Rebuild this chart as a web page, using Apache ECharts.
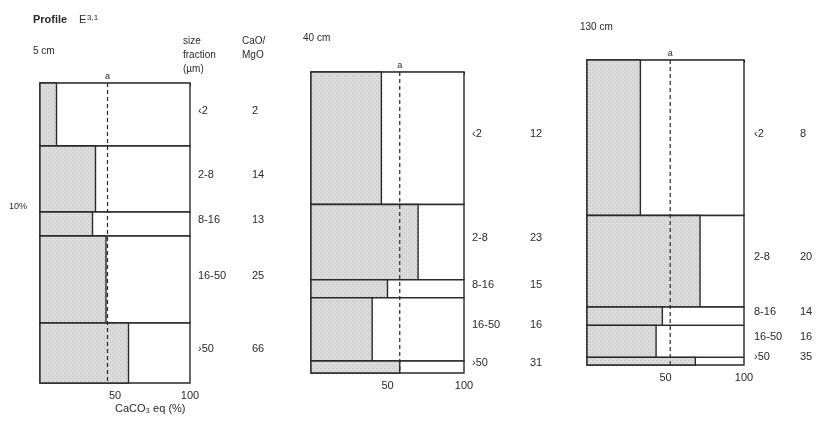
<!DOCTYPE html>
<html>
<head>
<meta charset="utf-8">
<script src="https://cdn.jsdelivr.net/npm/echarts@6/dist/echarts.min.js"></script>
<style>
  html, body { margin: 0; padding: 0; background: #fff; }
  #chart { width: 829px; height: 421px; }
</style>
</head>
<body>
<div id="chart"></div>
<script>
// size fractions (µm), same order at every depth
const fractions = ['<2', '2-8', '8-16', '16-50', '>50'];

// 5 cm
const share5 = [21, 22, 8, 29, 20];      // weight % of each fraction (band height)
const caco3_5 = [11, 37, 35, 44, 59];    // CaCO3 eq (%)
const ratio5 = [2, 14, 13, 25, 66];      // CaO/MgO
const mean5 = 45;                        // "a"

// 40 cm
const share40 = [44, 25, 6, 21, 4];
const caco3_40 = [46, 70, 50, 40, 58];
const ratio40 = [12, 23, 15, 16, 31];
const mean40 = 58;

// 130 cm
const share130 = [51, 30, 6, 10.5, 2.5];
const caco3_130 = [34, 72, 48, 44, 69];
const ratio130 = [8, 20, 14, 16, 35];
const mean130 = 53;

const xTicks = [50, 100];

const panels = [
  { share: share5, caco3: caco3_5, ratio: ratio5, mean: mean5,
    grid: { left: 40, top: 83, width: 150, height: 300 }, labelDx: 8, ratioDx: 62 },
  { share: share40, caco3: caco3_40, ratio: ratio40, mean: mean40,
    grid: { left: 311, top: 72, width: 153, height: 301 }, labelDx: 8, ratioDx: 66 },
  { share: share130, caco3: caco3_130, ratio: ratio130, mean: mean130,
    grid: { left: 587, top: 60, width: 157, height: 305 }, labelDx: 10, ratioDx: 56 }
];

const ink = '#2a2a2a';
const font = '"Liberation Sans", Arial, sans-serif';

// stippled grey fill like the printed shading
const pat = document.createElement('canvas');
pat.width = 4; pat.height = 4;
const pctx = pat.getContext('2d');
pctx.fillStyle = '#dcdcdc';
pctx.fillRect(0, 0, 4, 4);
pctx.fillStyle = '#bdbdbd';
pctx.fillRect(0, 0, 1, 1);
pctx.fillRect(2, 2, 1, 1);

function bandRows(p) {
  let acc = 0;
  return p.share.map((s, i) => {
    const row = [acc, acc + s, p.caco3[i], p.ratio[i]];
    acc += s;
    return row;
  });
}

function makeBands(pi) {
  const p = panels[pi];
  return function (params, api) {
    const start = api.value(0), end = api.value(1), ca = api.value(2);
    const tl = api.coord([0, start]);
    const br = api.coord([100, end]);
    const sh = api.coord([ca, end]);
    const mid = api.coord([100, (start + end) / 2]);
    const txt = (x, y, t) => ({
      type: 'text', x: x, y: y,
      style: { text: t, fill: ink, fontSize: 11, fontFamily: font, align: 'left', verticalAlign: 'middle' }
    });
    return {
      type: 'group',
      children: [
        { type: 'rect', shape: { x: tl[0], y: tl[1], width: br[0] - tl[0], height: br[1] - tl[1] },
          style: { fill: '#fff', stroke: ink, lineWidth: 1.4 } },
        { type: 'rect', shape: { x: tl[0], y: tl[1], width: sh[0] - tl[0], height: sh[1] - tl[1] },
          style: { fill: { image: pat, repeat: 'repeat' }, stroke: ink, lineWidth: 1.4 } },
        txt(br[0] + p.labelDx, mid[1] - 4, fractions[params.dataIndex].replace('<', '‹').replace('>', '›')),
        txt(br[0] + p.ratioDx, mid[1] - 4, String(api.value(3)))
      ]
    };
  };
}

function meanLine(params, api) {
  const m = api.value(0);
  const top = api.coord([m, 0]);
  const bot = api.coord([m, 100]);
  return {
    type: 'group',
    children: [
      { type: 'line', shape: { x1: top[0], y1: top[1], x2: bot[0], y2: bot[1] },
        style: { stroke: ink, lineWidth: 1.2, lineDash: [4, 3] } },
      { type: 'text', x: top[0], y: top[1] - 6,
        style: { text: 'a', fill: ink, fontSize: 9, fontFamily: font, align: 'center', verticalAlign: 'middle' } }
    ]
  };
}

const grids = [], xAxes = [], yAxes = [], series = [];
panels.forEach((p, i) => {
  grids.push(p.grid);
  xAxes.push({
    gridIndex: i, type: 'value', min: 0, max: 100, interval: 10,
    axisLine: { show: true, lineStyle: { color: ink, width: 1.4 } },
    axisTick: { show: true, length: 3, lineStyle: { color: ink } },
    axisLabel: { color: ink, fontSize: 11, fontFamily: font, margin: 7,
      formatter: v => (xTicks.includes(v) ? String(v) : '') },
    splitLine: { show: false }
  });
  yAxes.push({
    gridIndex: i, type: 'value', min: 0, max: 100, inverse: true, show: false
  });
  series.push({
    type: 'custom', xAxisIndex: i, yAxisIndex: i, clip: false,
    renderItem: makeBands(i), data: bandRows(p), z: 2
  });
  series.push({
    type: 'custom', xAxisIndex: i, yAxisIndex: i, clip: false,
    renderItem: meanLine, data: [[p.mean]], z: 3
  });
});

const chart = echarts.init(document.getElementById('chart'), null, { renderer: 'canvas' });
chart.setOption({
  backgroundColor: '#fff',
  animation: false,
  grid: grids,
  xAxis: xAxes,
  yAxis: yAxes,
  series: series,
  graphic: [
    { type: 'text', left: 33, top: 14, style: { text: 'Profile', fill: ink, font: 'bold 11px ' + font } },
    { type: 'text', left: 79, top: 14, style: { text: 'E', fill: ink, font: '11px ' + font } },
    { type: 'text', left: 87, top: 14, style: { text: '3,1', fill: ink, font: '8px ' + font } },
    { type: 'text', left: 33, top: 46, style: { text: '5 cm', fill: ink, font: '10px ' + font } },
    { type: 'text', left: 303, top: 33, style: { text: '40 cm', fill: ink, font: '10px ' + font } },
    { type: 'text', left: 580, top: 22, style: { text: '130 cm', fill: ink, font: '10px ' + font } },
    { type: 'text', left: 183, top: 34, style: { text: 'size\nfraction\n(µm)', fill: ink, font: '10px ' + font, lineHeight: 14 } },
    { type: 'text', left: 242, top: 34, style: { text: 'CaO/\nMgO', fill: ink, font: '10px ' + font, lineHeight: 14 } },
    { type: 'text', left: 9, top: 202, style: { text: '10%', fill: ink, font: '9px ' + font } },
    { type: 'text', left: 115, top: 403, style: { text: 'CaCO₃ eq (%)', fill: ink, font: '11px ' + font } }
  ]
});
</script>
</body>
</html>
